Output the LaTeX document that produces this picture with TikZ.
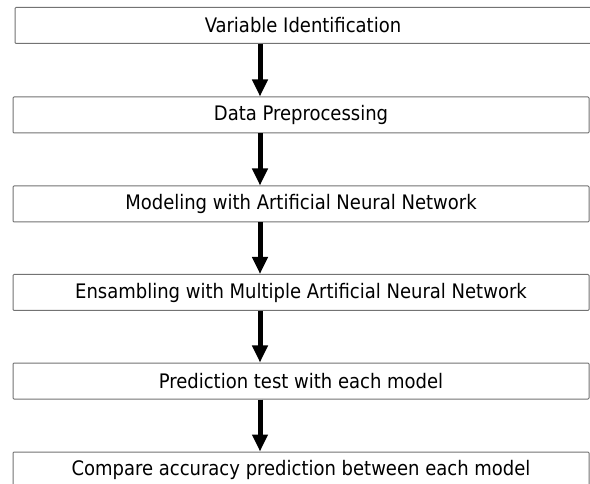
\documentclass[tikz,border=0pt]{standalone}
\usepackage{fontspec}
\setmainfont{DejaVu Sans Condensed}
\usetikzlibrary{arrows.meta}
\begin{document}
\begin{tikzpicture}[x=1pt,y=-1pt,
  stepbox/.style={draw=black!55, line width=1pt, rounded corners=1pt,
    minimum width=576pt, minimum height=36pt, inner sep=0pt,
    font=\fontsize{20}{24}\selectfont},
  flow/.style={line width=5pt, -{Triangle[width=15pt,length=17pt]}}]
\useasboundingbox (0,0) rectangle (590,484);
\fill[white] (0,0) rectangle (590,484);
\node[stepbox] (b1) at (303,25.5) {Variable Identification};
\node[stepbox] (b2) at (301,115) {Data Preprocessing};
\node[stepbox] (b3) at (301,204) {Modeling with Artificial Neural Network};
\node[stepbox] (b4) at (301,292.5) {Ensambling with Multiple Artificial Neural Network};
\node[stepbox] (b5) at (301,381) {Prediction test with each model};
\node[stepbox] (b6) at (301,470) {Compare accuracy prediction between each model};
\draw[flow] ([xshift=-43pt]b1.south) -- ([xshift=-41pt]b2.north);
\draw[flow] ([xshift=-41pt]b2.south) -- ([xshift=-41pt]b3.north);
\draw[flow] ([xshift=-41pt]b3.south) -- ([xshift=-41pt]b4.north);
\draw[flow] ([xshift=-41pt]b4.south) -- ([xshift=-41pt]b5.north);
\draw[flow] ([xshift=-41pt]b5.south) -- ([xshift=-41pt]b6.north);
\end{tikzpicture}
\end{document}
